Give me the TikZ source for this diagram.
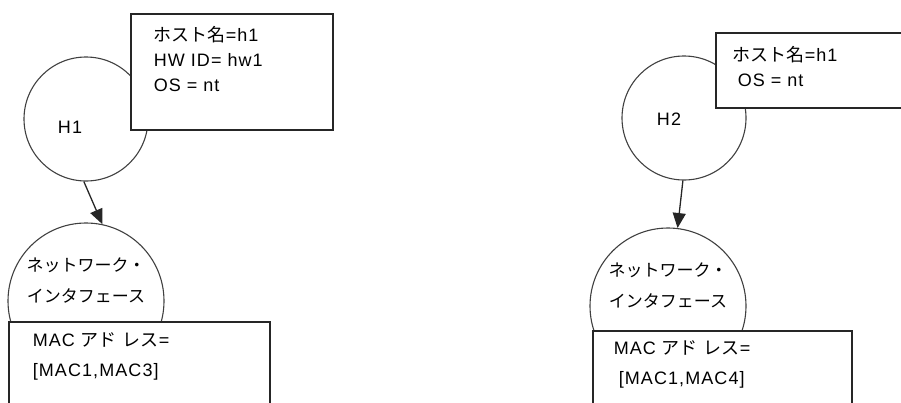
\documentclass[tikz,border=0pt]{standalone}
\usepackage{fontspec}
\setmainfont[LetterSpace=6]{Liberation Sans}
\newfontfamily\jp{Noto Sans CJK JP}
\usetikzlibrary{arrows.meta}

\begin{document}
\begin{tikzpicture}[x=1pt, y=-1pt,
    font=\fontsize{18}{25}\selectfont,
    hostnode/.style={circle, draw=black!75, line width=1.1pt, minimum size=124pt, inner sep=0pt},
    nicnode/.style={circle, draw=black!75, line width=1.1pt, minimum size=156pt, inner sep=0pt,
        font=\fontsize{17}{31}\selectfont, text width=120pt, align=center,
        text height=15pt, text depth=75pt},
    attrbox/.style={draw=black!85, fill=white, line width=1.6pt, anchor=north west,
        inner ysep=0pt, align=left},
    macbox/.style={attrbox, font=\fontsize{18}{30}\selectfont},
    link/.style={-{Triangle[length=15pt, width=13pt]}, line width=1.3pt, black!85}]
    \useasboundingbox (0,0) rectangle (901,402);

    % hosts
    \node[hostnode, label={[xshift=-16pt, yshift=-8pt]center:H1}] (h1) at (86,119) {};
    \node[hostnode, label={[xshift=-15pt, yshift=-1pt]center:H2}] (h2) at (684,118) {};

    % network interfaces
    \node[nicnode] (nic1) at (86,301) {{\jp ネットワーク・}\\{\jp インタフェース}};
    \node[nicnode] (nic2) at (668,306) {{\jp ネットワーク・}\\{\jp インタフェース}};

    % host -> interface
    \draw[link] (h1.-92) -- (nic1.78);
    \draw[link] (h2.-91) -- (nic2.83);

    % attribute boxes
    \node[attrbox, text width=156pt, inner xsep=23pt, text height=28pt, text depth=88pt]
        (attr1) at (130,13) {{\jp ホスト名}=h1\\HW ID= hw1\\OS = nt};
    \node[attrbox, text width=180pt, inner xsep=17pt, text height=29pt, text depth=46pt]
        (attr2) at (715,32) {{\jp ホスト名}=h1\\\hspace*{5pt}OS = nt};
    \node[macbox, text width=213pt, inner xsep=24pt, text height=25pt, text depth=84pt]
        (mac1) at (8,321) {MAC {\jp アド レス}=\\{}[MAC1,MAC3]};
    \node[macbox, text width=217pt, inner xsep=21pt, text height=24pt, text depth=76pt]
        (mac2) at (592,330) {MAC {\jp アド レス}=\\\hspace*{5pt}[MAC1,MAC4]};
\end{tikzpicture}
\end{document}
